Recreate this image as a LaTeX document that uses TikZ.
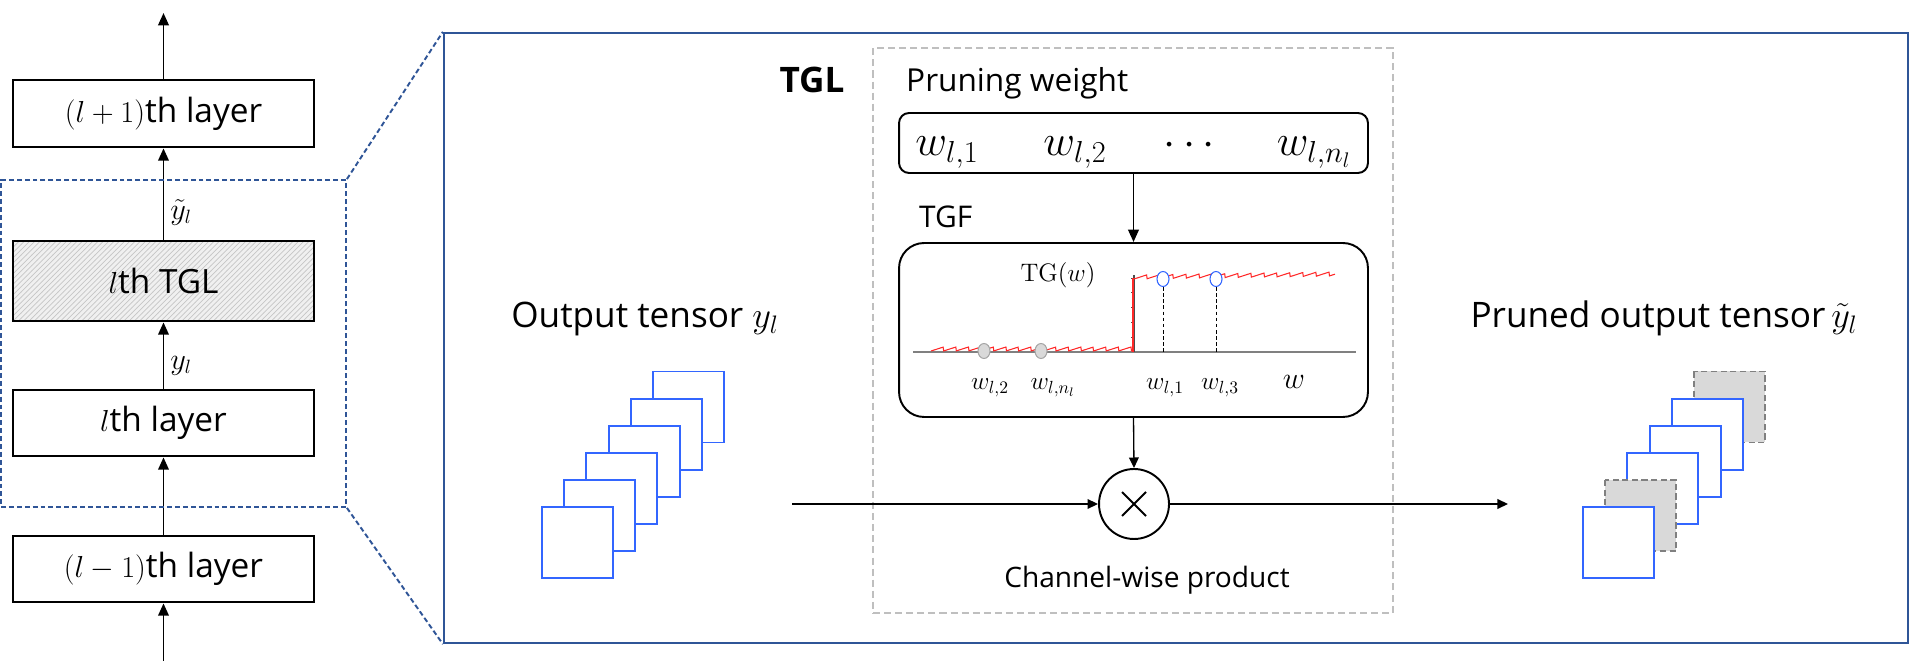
\documentclass[tikz,border=0pt]{standalone}
\usepackage[no-math]{fontspec}
\usepackage{amsmath}
\setmainfont{Open Sans}
\usetikzlibrary{arrows.meta,patterns,positioning}

\definecolor{frameblue}{RGB}{47,85,151}
\definecolor{chanblue}{RGB}{51,102,255}
\definecolor{prunegray}{RGB}{217,217,217}
\definecolor{tglgray}{RGB}{191,191,191}
\definecolor{stepred}{RGB}{255,40,40}

\tikzset{
  layerbox/.style = {draw, line width=1.6pt, minimum width=6.02cm,
    inner sep=0pt, font=\fontsize{19}{21}\selectfont},
  flow/.style     = {->, line width=1.1pt},
  thinflow/.style = {-{Triangle[length=6pt,width=5.5pt]}, line width=0.75pt},
  chan/.style     = {draw=chanblue, line width=1.1pt, fill=white},
  pruned/.style   = {draw=black!50, dash pattern=on 3.5pt off 2pt,
    line width=1.1pt, fill=prunegray},
  bigtext/.style  = {font=\fontsize{20}{22}\selectfont, anchor=base},
  graphlab/.style = {font=\fontsize{14}{16}\selectfont, anchor=base},
  wbig/.style     = {font=\fontsize{23}{25}\selectfont, anchor=base}
}

\begin{document}
\begin{tikzpicture}[x=0.02cm, y=-0.02cm, >={Triangle[length=7pt,width=6pt]}]
  \useasboundingbox (0,0) rectangle (1916,661);

  % layer stack on the left
  \node[layerbox, minimum height=1.34cm] (lp1) at (163.5,113.5) {$(l+1)$th layer};
  \node[layerbox, minimum height=1.6cm,
        preaction={fill=gray!12}, pattern=north east lines,
        pattern color=gray!45] (tglbox) at (163.5,281) {$l$th TGL};
  \node[layerbox, minimum height=1.32cm] (lth) at (163.5,423) {$l$th layer};
  \node[layerbox, minimum height=1.32cm] (lm1) at (163.5,569) {$(l-1)$th layer};
  \coordinate (top) at (163.5,13);
  \coordinate (bottom) at (163.5,661);

  \draw[flow] (lp1.north) -- (top);
  \draw[flow] (tglbox.north) -- node[pos=0.3, right, font=\fontsize{16}{18}\selectfont]
    (ytil) {$\tilde{y}_l$} (lp1.south);
  \draw[flow] (lth.north) -- node[pos=0.35, right, font=\fontsize{16}{18}\selectfont]
    (yl) {$y_l$} (tglbox.south);
  \draw[flow] (lm1.north) -- (lth.south);
  \draw[flow] (bottom) -- (lm1.south);

  % zoom frame
  \node[draw=frameblue, line width=1.1pt, dash pattern=on 2.8pt off 1.7pt,
        minimum width=6.9cm, minimum height=6.54cm, inner sep=0pt]
        (zoomsrc) at (173.5,343.5) {};
  \node[draw=frameblue, line width=1.4pt, minimum width=29.28cm,
        minimum height=12.2cm, inner sep=0pt] (panel) at (1176,338) {};
  \draw[frameblue, line width=1.1pt, dash pattern=on 2.8pt off 1.7pt]
    (zoomsrc.north east) -- (panel.north west);
  \draw[frameblue, line width=1.1pt, dash pattern=on 2.8pt off 1.7pt]
    (zoomsrc.south east) -- (panel.south west);

  % TGL block
  \node[draw=tglgray, line width=1.1pt, dash pattern=on 4pt off 2.3pt,
        minimum width=10.4cm, minimum height=11.3cm, inner sep=0pt]
        (tglarea) at (1133,330.5) {};
  \node[font=\bfseries\fontsize{20}{22}\selectfont, anchor=base] (tgltitle) at (812,93) {TGL};
  \node[font=\fontsize{18}{20}\selectfont, anchor=base west] (pwtitle) at (900,92) {Pruning weight};
  \node[draw, line width=1.1pt, rounded corners=0.2cm, minimum width=9.38cm,
        minimum height=1.2cm, inner sep=0pt] (pw) at (1133.5,143) {};
  \node[wbig] (w1) at (947,156) {$w_{l,1}$};
  \node[wbig] (w2) at (1075,156) {$w_{l,2}$};
  \node[wbig] (wdots) at (1193,156) {$\cdots$};
  \node[wbig] (wn) at (1314,156) {$w_{l,n_l}$};

  \node[font=\fontsize{17}{19}\selectfont, anchor=base west] (tgftitle) at (913,228) {TGF};
  \node[draw, line width=1.1pt, rounded corners=0.5cm, minimum width=9.38cm,
        minimum height=3.48cm, inner sep=0pt] (tgf) at (1133.5,330) {};
  \draw[flow] (pw.south) -- (tgf.north);

  % gate function plot
  \node[font=\fontsize{15}{17}\selectfont, anchor=base] (tglab) at (1058,282) {$\mathrm{TG}(w)$};
  \draw[gray, line width=0.8pt] (913,352) -- (1356,352);
  \draw[black!70, line width=0.6pt] (1134,275) -- (1134,352);
  \draw[black!70, line width=0.5pt] (1131,278) -- (1134,278) (1131,292) -- (1134,292)
    (1131,307) -- (1134,307) (1131,322) -- (1134,322) (1131,337) -- (1134,337);
  \draw[stepred, line width=0.6pt] plot[domain=931:1133, samples=400]
    (\x, {351 - 4*mod(\x-931,12.5)/12.5});
  \draw[stepred, line width=0.9pt] (1133,352) -- (1133,278);
  \draw[stepred, line width=0.6pt] plot[domain=1134:1335, samples=400]
    (\x, {279 - 3*(\x-1134)/201 - 4*mod(\x-1134,13)/13});
  \draw[dash pattern=on 2pt off 1.5pt, line width=0.5pt] (1163,287) -- (1163,352);
  \draw[dash pattern=on 2pt off 1.5pt, line width=0.5pt] (1216,287) -- (1216,352);
  \draw[chanblue, fill=white, line width=0.6pt] (1163,279) ellipse [x radius=0.12cm, y radius=0.15cm];
  \draw[chanblue, fill=white, line width=0.6pt] (1216,279) ellipse [x radius=0.12cm, y radius=0.15cm];
  \draw[gray!70, fill=prunegray, line width=0.6pt] (984,351) ellipse [x radius=0.12cm, y radius=0.15cm];
  \draw[gray!70, fill=prunegray, line width=0.6pt] (1041,351) ellipse [x radius=0.12cm, y radius=0.15cm];
  \node[graphlab] (gw2) at (990,390) {$w_{l,2}$};
  \node[graphlab] (gwn) at (1053,390) {$w_{l,n_l}$};
  \node[graphlab] (gw1) at (1165,390) {$w_{l,1}$};
  \node[graphlab] (gw3) at (1220,390) {$w_{l,3}$};
  \node[font=\fontsize{16}{18}\selectfont, anchor=base] (gw) at (1294,389) {$w$};

  % channel-wise product
  \node[draw, circle, line width=1.1pt, minimum size=1.4cm, inner sep=0pt] (prod) at (1134,504) {};
  \draw[line width=1.1pt] (prod.center) +(-12,-12) -- +(12,12) +(-12,12) -- +(12,-12);
  \node[font=\fontsize{16}{18}\selectfont, anchor=base] (prodlab) at (1147,587) {Channel-wise product};
  \draw[thinflow] (tgf.south) -- (prod.north);
  \coordinate (instart) at (792,504);
  \coordinate (outend) at (1508,504);
  \draw[thinflow] (instart) -- (prod.west);
  \draw[thinflow] (prod.east) -- (outend);

  % output tensor
  \node[bigtext] (outlab) at (645,328) {Output tensor $y_l$};
  \draw[chan] (653,371.5) rectangle (724,442.5);
  \draw[chan] (630.8,398.6) rectangle (701.8,469.6);
  \draw[chan] (608.6,425.7) rectangle (679.6,496.7);
  \draw[chan] (586.4,452.8) rectangle (657.4,523.8);
  \draw[chan] (564.2,479.9) rectangle (635.2,550.9);
  \draw[chan] (542,507) rectangle (613,578);

  % pruned output tensor
  \node[bigtext] (prunedlab) at (1664,328) {Pruned output tensor\,$\tilde{y}_l$};
  \draw[pruned] (1694,371.5) rectangle (1765,442.5);
  \draw[chan] (1671.8,398.6) rectangle (1742.8,469.6);
  \draw[chan] (1649.6,425.7) rectangle (1720.6,496.7);
  \draw[chan] (1627.4,452.8) rectangle (1698.4,523.8);
  \draw[pruned] (1605.2,479.9) rectangle (1676.2,550.9);
  \draw[chan] (1583,507) rectangle (1654,578);
\end{tikzpicture}
\end{document}
